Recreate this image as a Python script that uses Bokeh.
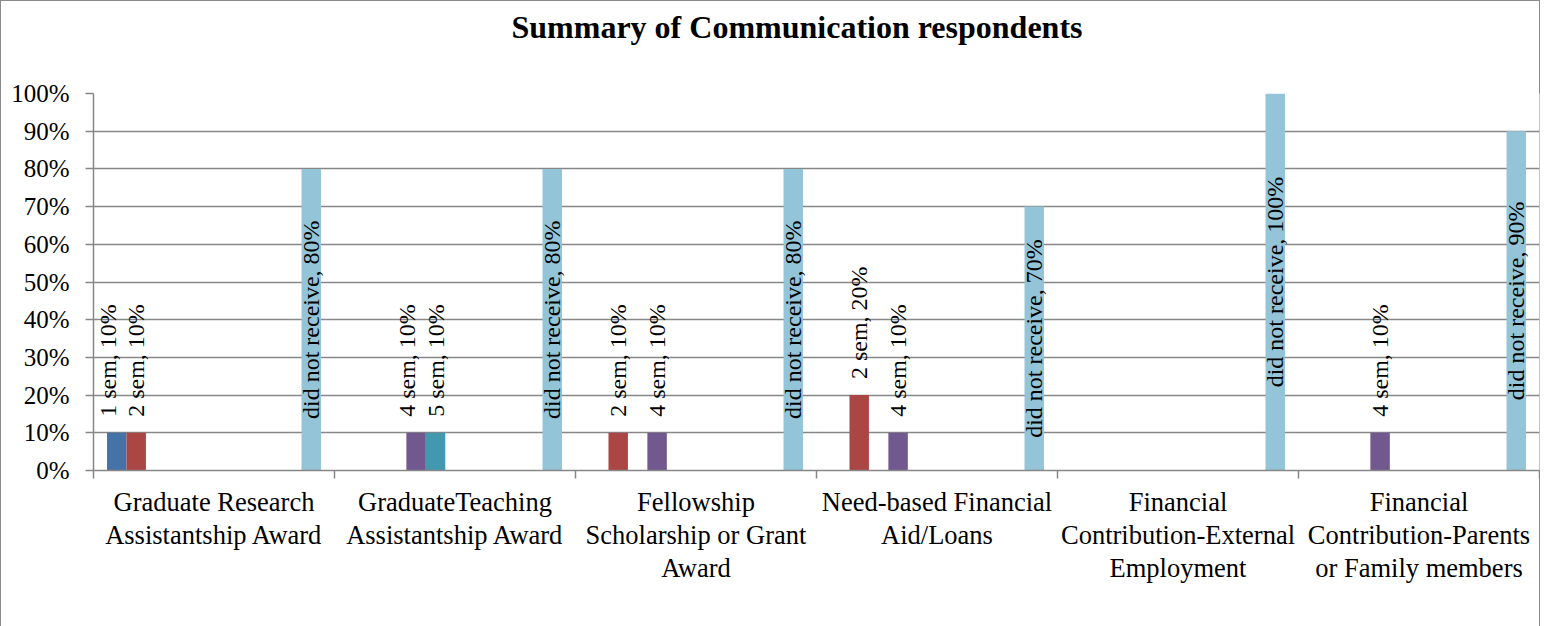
import numpy as np
from bokeh.plotting import figure
from bokeh.models import (ColumnDataSource, Range1d, LinearAxis,
                          FixedTicker, NumeralTickFormatter, Title)
from bokeh.transform import dodge
from bokeh.core.properties import value
from bokeh.embed import file_html
from bokeh.resources import INLINE

title_text = "Summary of Communication respondents"
categories = [
    "Graduate Research\nAssistantship Award",
    "GraduateTeaching\nAssistantship Award",
    "Fellowship\nScholarship or Grant\nAward",
    "Need-based Financial\nAid/Loans",
    "Financial\nContribution-External\nEmployment",
    "Financial\nContribution-Parents\nor Family members",
]
series = ["1 sem", "2 sem", "3 sem", "4 sem", "5 sem", "6 sem",
          "7 sem", "8 sem", "9 sem", "10 sem", "did not receive"]
sem1 = [0.1, 0.0, 0.0, 0.0, 0.0, 0.0]
sem2 = [0.1, 0.0, 0.1, 0.2, 0.0, 0.0]
sem3 = [0.0, 0.0, 0.0, 0.0, 0.0, 0.0]
sem4 = [0.0, 0.1, 0.1, 0.1, 0.0, 0.1]
sem5 = [0.0, 0.1, 0.0, 0.0, 0.0, 0.0]
sem6 = [0.0, 0.0, 0.0, 0.0, 0.0, 0.0]
sem7 = [0.0, 0.0, 0.0, 0.0, 0.0, 0.0]
sem8 = [0.0, 0.0, 0.0, 0.0, 0.0, 0.0]
sem9 = [0.0, 0.0, 0.0, 0.0, 0.0, 0.0]
sem10 = [0.0, 0.0, 0.0, 0.0, 0.0, 0.0]
did_not_receive = [0.8, 0.8, 0.8, 0.7, 1.0, 0.9]
values = [sem1, sem2, sem3, sem4, sem5, sem6, sem7, sem8, sem9, sem10, did_not_receive]
colors = ["#4572A7", "#AA4643", "#89A54E", "#71588F", "#4198AF", "#DB843D",
          "#93A9CF", "#D19392", "#B9CD96", "#A99BBD", "#93C4D7"]
y_ticks = [0.0, 0.1, 0.2, 0.3, 0.4, 0.5, 0.6, 0.7, 0.8, 0.9, 1.0]

FONT = "Liberation Serif"
GRID = "#878787"

ncat = len(categories)
centers = [i + 0.5 for i in range(ncat)]
bounds = list(range(ncat + 1))

p = figure(x_range=Range1d(0, ncat), y_range=Range1d(0, 1),
           width=1540, height=626,
           min_border_left=93, min_border_right=1,
           min_border_top=93, min_border_bottom=156,
           x_axis_location=None,
           output_backend="svg", toolbar_location=None)
p.outline_line_color = None
p.border_fill_color = None
p.styles = {"box-shadow": "inset 1px 1px 0 0 #8a8a8a, inset -1px 0 0 0 #8a8a8a",
            "background": "white"}

p.title = Title(text=title_text, align="left", offset=418, text_font=FONT,
                text_font_size="32px", text_font_style="bold", text_color="black")
# blank spacer between the title and the plot area
p.add_layout(Title(text=" ", text_font_size="29px"), "above")

# y axis
p.yaxis.ticker = FixedTicker(ticks=y_ticks)
p.yaxis.formatter = NumeralTickFormatter(format="0%")
p.yaxis.major_label_text_font = FONT
p.yaxis.major_label_text_font_size = "25px"
p.yaxis.major_label_text_color = "black"
p.yaxis.major_label_standoff = 16
p.yaxis.major_tick_out = 8
p.yaxis.major_tick_in = 0
p.yaxis.minor_tick_line_color = None
p.yaxis.axis_line_color = GRID
p.yaxis.major_tick_line_color = GRID
p.yaxis.axis_line_width = 1.5
p.yaxis.major_tick_line_width = 1.5
p.ygrid.ticker = FixedTicker(ticks=y_ticks)
p.ygrid.grid_line_color = GRID
p.ygrid.grid_line_width = 1.5
p.xgrid.grid_line_color = None

# x axis: boundary ticks (nearest the frame), then category labels
bound_axis = LinearAxis(ticker=FixedTicker(ticks=bounds),
                        major_label_overrides={b: "" for b in bounds},
                        major_label_text_font_size="1px", major_label_standoff=0,
                        major_tick_out=8, major_tick_in=0,
                        minor_tick_line_color=None,
                        axis_line_color=GRID, major_tick_line_color=GRID,
                        axis_line_width=1.5, major_tick_line_width=1.5)
p.add_layout(bound_axis, "below")
cat_axis = LinearAxis(ticker=FixedTicker(ticks=centers),
                      major_label_overrides={c: t for c, t in zip(centers, categories)},
                      axis_line_color=None, major_tick_line_color=None,
                      minor_tick_line_color=None,
                      major_label_text_font=FONT,
                      major_label_text_font_size="26.5px",
                      major_label_text_line_height=1.1,
                      major_label_text_color="black",
                      major_label_standoff=2)
p.add_layout(cat_axis, "below")

# bars
data = {"xc": centers}
for name, vals in zip(series, values):
    data[name] = vals
src = ColumnDataSource(data)
n = len(series)
slot = 0.0807
for i, (name, vals) in enumerate(zip(series, values)):
    off = (i - (n - 1) / 2) * slot
    p.vbar(x=dodge("xc", off), top=name, width=slot,
           source=src, fill_color=colors[i], line_color=None)

    idx = [k for k, v in enumerate(vals) if v > 0]
    if not idx:
        continue
    xs = [centers[k] for k in idx]
    vs = [vals[k] for k in idx]
    labels = [f"{name}, {round(v * 100)}%" for v in vs]
    if name == "did not receive":
        lsrc = ColumnDataSource(dict(xc=xs, y=[v / 2 for v in vs], t=labels))
        p.text(x=dodge("xc", off), y="y", text="t", source=lsrc,
               angle=np.pi / 2, text_align="center", text_baseline="middle",
               text_font=value(FONT), text_font_size="24px", text_color="black")
    else:
        # a label whose right-hand neighbour also has a label is nudged left
        nxt = values[i + 1]
        dx = [-9 if nxt[k] > 0 else 0 for k in idx]
        lsrc = ColumnDataSource(dict(xc=xs, y=vs, t=labels, dx=dx))
        p.text(x=dodge("xc", off), y="y", text="t", source=lsrc,
               angle=np.pi / 2, text_align="left", text_baseline="middle",
               x_offset="dx", y_offset=-16,
               text_font=value(FONT), text_font_size="24px", text_color="black")

open("out.html", "w").write(file_html(p, INLINE))
